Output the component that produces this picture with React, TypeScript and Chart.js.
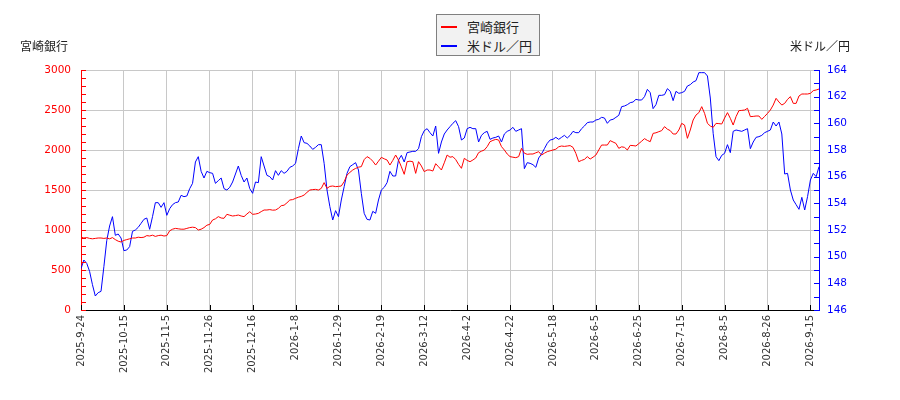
import { useEffect, useRef } from 'react';
import { Chart, registerables } from 'chart.js';

Chart.register(...registerables);

const RED = '#ff0000';
const BLUE = '#0000ff';
const GRID = '#c8c8c8';

// tick labels, one every 15 trading days
const dateLabels = [
  '2025-9-24', '2025-10-15', '2025-11-5', '2025-11-26', '2025-12-16', '2026-1-8',
  '2026-1-29', '2026-2-19', '2026-3-12', '2026-4-2', '2026-4-22', '2026-5-18',
  '2026-6-5', '2026-6-25', '2026-7-15', '2026-8-5', '2026-8-26', '2026-9-15',
];

// 宮崎銀行 closing prices (left axis)
const bankPrices = [
  910, 900, 905, 895, 890, 895, 900, 900, 895, 900,
  890, 905, 880, 860, 850, 870, 880, 890, 900, 900,
  910, 905, 910, 930, 925, 935, 920, 930, 935, 925,
  930, 990, 1010, 1020, 1015, 1010, 1010, 1020, 1030, 1035,
  1030, 1000, 1010, 1030, 1060, 1070, 1125, 1140, 1167, 1150,
  1146, 1196, 1185, 1175, 1180, 1187, 1175, 1167, 1200, 1229,
  1196, 1200, 1208, 1230, 1250, 1250, 1255, 1248, 1250, 1270,
  1304, 1310, 1340, 1375, 1380, 1396, 1410, 1420, 1437, 1470,
  1500, 1505, 1508, 1500, 1520, 1592, 1521, 1545, 1550, 1542,
  1545, 1550, 1604, 1687, 1720, 1750, 1770, 1785, 1792, 1880,
  1917, 1896, 1860, 1812, 1860, 1908, 1890, 1875, 1812, 1870,
  1937, 1875, 1790, 1696, 1854, 1860, 1854, 1708, 1854, 1800,
  1729, 1750, 1750, 1737, 1829, 1790, 1750, 1840, 1937, 1910,
  1917, 1880, 1820, 1771, 1896, 1870, 1854, 1875, 1900, 1967,
  1985, 2000, 2042, 2104, 2120, 2133, 2125, 2042, 2000, 1950,
  1917, 1910, 1904, 1917, 2021, 1960, 1946, 1950, 1950, 1965,
  1979, 1937, 1960, 1979, 1990, 2000, 2010, 2040, 2050, 2045,
  2050, 2055, 2033, 1958, 1854, 1870, 1883, 1917, 1887, 1910,
  1937, 2000, 2062, 2062, 2062, 2117, 2100, 2083, 2021, 2040,
  2033, 2000, 2058, 2055, 2050, 2080, 2110, 2142, 2120, 2104,
  2208, 2215, 2229, 2242, 2292, 2260, 2242, 2200, 2200, 2250,
  2333, 2312, 2146, 2250, 2375, 2437, 2467, 2542, 2458, 2333,
  2300, 2283, 2333, 2330, 2325, 2400, 2467, 2396, 2312, 2417,
  2492, 2495, 2500, 2521, 2417, 2420, 2425, 2425, 2383, 2420,
  2458, 2500, 2562, 2646, 2600, 2562, 2583, 2633, 2667, 2583,
  2583, 2675, 2700, 2700, 2700, 2708, 2742, 2750, 2762,
];

// 米ドル／円 rate (right axis)
const usdJpy = [
  149.1, 149.75, 149.5, 148.9, 147.9, 147.05, 147.3, 147.4, 149.25, 151.2,
  152.3, 153.0, 151.6, 151.7, 151.4, 150.45, 150.5, 150.75, 151.9, 152.0,
  152.2, 152.5, 152.8, 152.9, 152.05, 153.0, 154.05, 154.05, 153.7, 154.05,
  153.1, 153.6, 153.9, 154.05, 154.1, 154.6, 154.5, 154.55, 155.1, 155.5,
  157.1, 157.5, 156.4, 155.9, 156.4, 156.3, 156.25, 155.5, 155.7, 155.9,
  155.1, 155.0, 155.2, 155.6, 156.2, 156.8, 156.1, 155.6, 155.9, 155.1,
  154.75, 155.6, 155.55, 157.5, 156.8, 156.1, 156.0, 155.75, 156.45, 156.1,
  156.45, 156.25, 156.4, 156.7, 156.8, 157.0, 158.1, 159.05, 158.55, 158.5,
  158.3, 158.05, 158.2, 158.4, 158.4, 157.0, 155.0, 153.75, 152.75, 153.45,
  153.0, 154.25, 155.25, 156.25, 156.75, 156.9, 157.05, 156.5, 154.75, 153.25,
  152.8, 152.75, 153.4, 153.25, 154.25, 155.0, 155.2, 155.55, 156.4, 156.05,
  156.05, 157.25, 157.6, 157.1, 157.8, 157.85, 157.9, 157.9, 158.1, 159.0,
  159.45, 159.6, 159.3, 159.05, 159.8, 157.75, 158.6, 159.2, 159.5, 159.75,
  160.0, 160.2, 159.75, 158.75, 158.9, 159.6, 159.7, 159.6, 159.6, 158.6,
  159.1, 159.3, 159.4, 158.8, 158.9, 158.95, 159.05, 158.6, 159.2, 159.4,
  159.5, 159.7, 159.4, 159.5, 159.6, 156.6, 157.05, 157.0, 156.9, 156.7,
  157.4, 157.7, 158.1, 158.5, 158.75, 158.8, 158.95, 158.8, 158.95, 159.1,
  158.9, 159.1, 159.4, 159.3, 159.3, 159.6, 159.8, 160.05, 160.1, 160.1,
  160.25, 160.3, 160.45, 160.4, 160.0, 160.25, 160.3, 160.45, 160.6, 161.25,
  161.3, 161.4, 161.55, 161.6, 161.8, 161.75, 161.75, 162.0, 162.55, 162.3,
  161.1, 161.4, 162.1, 162.1, 162.15, 162.6, 162.4, 161.7, 162.4, 162.25,
  162.3, 162.4, 162.8, 162.9, 163.1, 163.2, 163.8, 163.8, 163.8, 163.55,
  161.9, 159.25, 157.5, 157.2, 157.6, 157.75, 158.4, 157.8, 159.4, 159.5,
  159.45, 159.4, 159.5, 159.6, 158.1, 158.6, 158.95, 159.0, 159.1, 159.3,
  159.4, 159.5, 160.1, 159.8, 160.1, 159.2, 156.2, 156.25, 155.0, 154.25,
  153.9, 153.55, 154.45, 153.5, 154.5, 155.75, 156.25, 156.0, 156.75,
];

const LABEL_STEP = 15;

// short tick marks drawn inwards from each axis line
const innerTicks = {
  id: 'innerTicks',
  afterDraw(chart: any) {
    const { ctx, chartArea: a, scales } = chart;
    const len = 5;
    ctx.save();
    ctx.lineWidth = 1;

    ctx.strokeStyle = RED;
    ctx.beginPath();
    scales.y.ticks.forEach((t: any) => {
      const p = Math.round(scales.y.getPixelForValue(t.value)) + 0.5;
      ctx.moveTo(a.left, p);
      ctx.lineTo(a.left + len, p);
    });
    ctx.stroke();

    ctx.strokeStyle = BLUE;
    ctx.beginPath();
    scales.y1.ticks.forEach((t: any) => {
      const p = Math.round(scales.y1.getPixelForValue(t.value)) + 0.5;
      ctx.moveTo(a.right, p);
      ctx.lineTo(a.right - len, p);
    });
    ctx.stroke();

    ctx.strokeStyle = '#000';
    ctx.beginPath();
    scales.x.ticks.forEach((t: any) => {
      const p = Math.round(scales.x.getPixelForValue(t.value)) + 0.5;
      ctx.moveTo(p, a.bottom);
      ctx.lineTo(p, a.bottom - len);
    });
    ctx.stroke();
    ctx.restore();
  },
};

export default function App() {
  const canvasRef = useRef<HTMLCanvasElement>(null);

  useEffect(() => {
    if (!canvasRef.current) return;
    const tickFont = { family: '"DejaVu Sans", sans-serif', size: 10.5 };

    const chart = new Chart(canvasRef.current, {
      type: 'line',
      data: {
        datasets: [
          {
            label: '宮崎銀行',
            data: bankPrices.map((v, i) => ({ x: i, y: v })),
            borderColor: RED,
            borderWidth: 1,
            pointRadius: 0,
            yAxisID: 'y',
          },
          {
            label: '米ドル／円',
            data: usdJpy.map((v, i) => ({ x: i, y: v })),
            borderColor: BLUE,
            borderWidth: 1,
            pointRadius: 0,
            yAxisID: 'y1',
          },
        ],
      },
      options: {
        animation: false,
        responsive: false,
        layout: { padding: { top: 70, left: 0, right: 0, bottom: 0 } },
        plugins: { legend: { display: false }, tooltip: { enabled: false } },
        scales: {
          x: {
            type: 'linear',
            min: 0,
            max: bankPrices.length - 1,
            afterBuildTicks: (scale: any) => {
              scale.ticks = dateLabels.map((_, k) => ({ value: k * LABEL_STEP }));
            },
            afterFit: (scale: any) => {
              scale.height = 90;
            },
            ticks: {
              autoSkip: false,
              minRotation: 90,
              maxRotation: 90,
              padding: 5,
              color: '#333',
              font: { family: '"DejaVu Sans", sans-serif', size: 10 },
              callback: (v: any) => dateLabels[Math.round(Number(v) / LABEL_STEP)] ?? '',
            },
            grid: { color: GRID, drawTicks: false },
            border: { color: '#000', width: 1 },
          },
          y: {
            position: 'left',
            min: 0,
            max: 3000,
            afterFit: (scale: any) => {
              scale.width = 81;
            },
            ticks: {
              stepSize: 100,
              autoSkip: false,
              padding: 10,
              color: RED,
              font: tickFont,
              callback: (v: any) => (Number(v) % 500 === 0 ? String(v) : ''),
            },
            grid: {
              drawTicks: false,
              color: (c: any) => (c.tick && c.tick.value % 500 === 0 ? GRID : 'rgba(0,0,0,0)'),
            },
            border: { color: RED, width: 1 },
          },
          y1: {
            position: 'right',
            min: 146,
            max: 164,
            afterFit: (scale: any) => {
              scale.width = 81;
            },
            ticks: {
              stepSize: 1,
              autoSkip: false,
              padding: 8,
              color: BLUE,
              font: tickFont,
              callback: (v: any) => (Number(v) % 2 === 0 ? String(v) : ''),
            },
            grid: { drawOnChartArea: false, drawTicks: false },
            border: { color: BLUE, width: 1 },
          },
        },
      },
      plugins: [innerTicks],
    });

    return () => {
      chart.destroy();
    };
  }, []);

  const cjk = '"Noto Sans CJK JP", "Noto Sans", sans-serif';

  return (
    <div style={{ position: 'absolute', left: 0, top: 0, width: 900, height: 400, background: '#fff', fontFamily: cjk }}>
      <canvas ref={canvasRef} width={900} height={400} style={{ position: 'absolute', left: 0, top: 0 }} />
      <div style={{ position: 'absolute', left: 20, top: 38, fontSize: 12, lineHeight: '16px', color: '#222' }}>宮崎銀行</div>
      <div style={{ position: 'absolute', left: 790, top: 38, fontSize: 12, lineHeight: '16px', color: '#222' }}>米ドル／円</div>
      <div
        style={{
          position: 'absolute',
          left: 436,
          top: 14,
          width: 102,
          height: 40,
          border: '1px solid #808080',
          background: '#f2f2f2',
          color: '#222',
          fontSize: 13,
        }}
      >
        {[
          { label: '宮崎銀行', color: RED, y: 4 },
          { label: '米ドル／円', color: BLUE, y: 23 },
        ].map((row) => (
          <div key={row.label} style={{ position: 'absolute', left: 4, top: row.y, height: 16, display: 'flex', alignItems: 'center', whiteSpace: 'nowrap' }}>
            <span style={{ display: 'inline-block', width: 16, height: 2, background: row.color, marginRight: 10 }} />
            <span style={{ lineHeight: '16px' }}>{row.label}</span>
          </div>
        ))}
      </div>
    </div>
  );
}
